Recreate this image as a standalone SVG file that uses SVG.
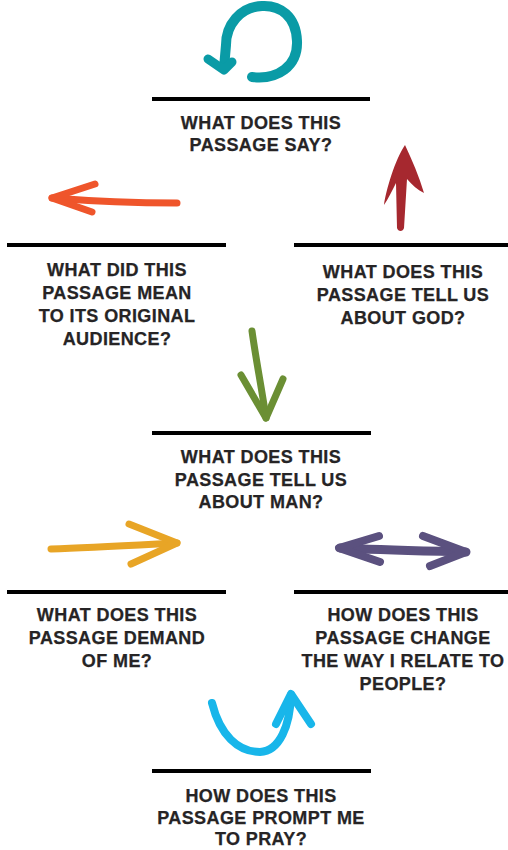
<svg xmlns="http://www.w3.org/2000/svg" width="508" height="850" viewBox="0 0 508 850">
<style>
.bar{stroke:#000;stroke-width:4;fill:none}
.t{font-family:"Liberation Sans",Arial,sans-serif;font-weight:bold;font-size:18px;fill:#262425;stroke:#262425;stroke-width:0.25;text-anchor:middle;letter-spacing:0.4px}
.s{fill:none;stroke-linecap:round;stroke-linejoin:round}
</style>
<rect width="508" height="850" fill="#fff"/>
<g id="connectors">
  <g id="arrow-teal">
    <path class="s" stroke="#0a9ba6" stroke-width="10" d="M252 77 C278 80 298 66 297 41 C296 16 280 5 262 6 C240 7 226 25 226 45 L224 68"/>
    <path class="s" stroke="#0a9ba6" stroke-width="9" d="M208 59 L224 70 L232 62"/>
  </g>
  <g id="arrow-orange">
    <path class="s" stroke="#ef552b" stroke-width="7" d="M177 203 C140 203 90 201 52 198"/>
    <path class="s" stroke="#ef552b" stroke-width="7" d="M95 184 L52 198 L92 212"/>
  </g>
  <path id="arrow-red" fill="#a6282f" d="M405 145 C412 160 419 176 424 193 C418 190 412 185 407 179 L404 228 C403 232 398 232 397 228 L396 183 C392 191 388 199 384 205 C386 190 395 160 405 145 Z"/>
  <g id="arrow-green">
    <path class="s" stroke="#6b8f34" stroke-width="7" d="M252 331 C256 360 262 390 266 418"/>
    <path class="s" stroke="#6b8f34" stroke-width="7" d="M241 375 L266 418 L283 379"/>
  </g>
  <g id="arrow-yellow">
    <path class="s" stroke="#e8a526" stroke-width="7" d="M51 549 C90 548 140 545 177 543"/>
    <path class="s" stroke="#e8a526" stroke-width="7" d="M129 524 L177 543 L131 564"/>
  </g>
  <g id="arrow-purple">
    <path class="s" stroke="#5b517f" stroke-width="9" d="M340 548 C380 550 430 551 466 552"/>
    <path class="s" stroke="#5b517f" stroke-width="8" d="M379 536 L339 548 L380 562"/>
    <path class="s" stroke="#5b517f" stroke-width="8" d="M423 536 L466 552 L430 566"/>
  </g>
  <g id="arrow-cyan">
    <path class="s" stroke="#18b6ea" stroke-width="8" d="M212 703 C220 735 238 752 260 752 C280 751 290 725 291 695"/>
    <path class="s" stroke="#18b6ea" stroke-width="8" d="M276 724 L291 694 L311 724"/>
  </g>
</g>
<g id="n1">
  <line class="bar" x1="152" y1="99" x2="370" y2="99"/>
  <text class="t" x="261" y="129">WHAT DOES THIS</text>
  <text class="t" x="261" y="151">PASSAGE SAY?</text>
</g>
<g id="n2">
  <line class="bar" x1="7" y1="245" x2="226" y2="245"/>
  <text class="t" x="117" y="276">WHAT DID THIS</text>
  <text class="t" x="117" y="299">PASSAGE MEAN</text>
  <text class="t" x="117" y="322">TO ITS ORIGINAL</text>
  <text class="t" x="117" y="345">AUDIENCE?</text>
</g>
<g id="n3">
  <line class="bar" x1="294" y1="245" x2="508" y2="245"/>
  <text class="t" x="403" y="278">WHAT DOES THIS</text>
  <text class="t" x="403" y="301">PASSAGE TELL US</text>
  <text class="t" x="403" y="324">ABOUT GOD?</text>
</g>
<g id="n4">
  <line class="bar" x1="152" y1="433" x2="371" y2="433"/>
  <text class="t" x="261" y="463">WHAT DOES THIS</text>
  <text class="t" x="261" y="486">PASSAGE TELL US</text>
  <text class="t" x="261" y="508">ABOUT MAN?</text>
</g>
<g id="n5">
  <line class="bar" x1="7" y1="592" x2="226" y2="592"/>
  <text class="t" x="117" y="621">WHAT DOES THIS</text>
  <text class="t" x="117" y="644">PASSAGE DEMAND</text>
  <text class="t" x="117" y="667">OF ME?</text>
</g>
<g id="n6">
  <line class="bar" x1="294" y1="592" x2="508" y2="592"/>
  <text class="t" x="403" y="621">HOW DOES THIS</text>
  <text class="t" x="403" y="644">PASSAGE CHANGE</text>
  <text class="t" x="403" y="667">THE WAY I RELATE TO</text>
  <text class="t" x="403" y="690">PEOPLE?</text>
</g>
<g id="n7">
  <line class="bar" x1="152" y1="771" x2="371" y2="771"/>
  <text class="t" x="261" y="802">HOW DOES THIS</text>
  <text class="t" x="261" y="824">PASSAGE PROMPT ME</text>
  <text class="t" x="261" y="845">TO PRAY?</text>
</g>
</svg>
